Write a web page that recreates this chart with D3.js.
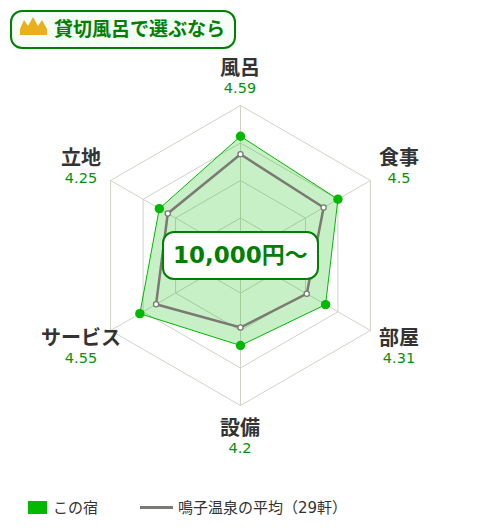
<!DOCTYPE html>
<html><head><meta charset="utf-8">
<script src="https://cdn.jsdelivr.net/npm/d3@7"></script>
<style>html,body{margin:0;padding:0;background:#fff}svg{display:block}text{font-family:"DejaVu Sans","Noto Sans CJK JP",sans-serif}</style>
</head><body><svg width="480" height="530"></svg>
<script>
const categories=["風呂","食事","部屋","設備","サービス","立地"];
const hotelValues=[4.59,4.5,4.31,4.2,4.55,4.25];
const averageValues=[4.35,4.28,4.02,3.96,4.30,4.12];
const ringValues=[3.5,4,4.5,5];
const title="貸切風呂で選ぶなら";
const priceLabel="10,000円～";
const legendHotel="この宿";
const legendAverage="鳴子温泉の平均（29軒）";
const cx=240.5,cy=255.5;
const svg=d3.select("svg");
const r=d3.scaleLinear().domain([3,5]).range([0,150]);
const ang=d3.scalePoint().domain(categories).range([0,300]);
const pt=(c,v)=>{const a=ang(c)*Math.PI/180;return [cx+r(v)*Math.sin(a),cy-r(v)*Math.cos(a)];};
const line=d3.line();
const ring=vals=>line(categories.map((c,i)=>pt(c,vals[i])))+"Z";
const gridColor="#d2d2c8";
ringValues.forEach(v=>svg.append("path").attr("d",ring(categories.map(()=>v))).attr("fill","none").attr("stroke",gridColor).attr("stroke-width",1));
categories.forEach(c=>{const [x,y]=pt(c,5);svg.append("line").attr("x1",cx).attr("y1",cy).attr("x2",x).attr("y2",y).attr("stroke",gridColor);});
svg.append("path").attr("d",ring(hotelValues)).attr("fill","#00b900").attr("fill-opacity",.22).attr("stroke","#00b900").attr("stroke-width",1);
svg.append("path").attr("d",ring(averageValues)).attr("fill","none").attr("stroke","#7a7a72").attr("stroke-width",2.5);
categories.forEach((c,i)=>{const [x,y]=pt(c,hotelValues[i]);svg.append("circle").attr("cx",x).attr("cy",y).attr("r",4.7).attr("fill","#00b900");});
categories.forEach((c,i)=>{const [x,y]=pt(c,averageValues[i]);svg.append("circle").attr("cx",x).attr("cy",y).attr("r",2.6).attr("fill","#fff").attr("stroke","#7a7a72").attr("stroke-width",1.3);});
const labelPos=[[240,75],[399,165],[399,345],[240,435],[81,345],[81,165]];
categories.forEach((c,i)=>{
 svg.append("text").attr("x",labelPos[i][0]).attr("y",labelPos[i][1]).attr("text-anchor","middle").attr("font-size",20).attr("font-weight",700).attr("fill","#333").text(c);
 svg.append("text").attr("x",labelPos[i][0]).attr("y",labelPos[i][1]+18).attr("text-anchor","middle").attr("font-size",14.5).attr("fill","#0a8f0a").text(hotelValues[i]);
});
svg.append("rect").attr("x",163).attr("y",232).attr("width",155).attr("height",47).attr("rx",11).attr("fill","#fff").attr("stroke","#008000").attr("stroke-width",2);
svg.append("text").attr("x",240.5).attr("y",263).attr("text-anchor","middle").attr("font-size",23).attr("font-weight",700).attr("fill","#008000").text(priceLabel);
svg.append("rect").attr("x",11).attr("y",11).attr("width",224).attr("height",37).attr("rx",11).attr("fill","#f6fcf6").attr("stroke","#008000").attr("stroke-width",2);
svg.append("path").attr("d","M20 35 L20 29 L24 20 L28 26 L33 17 L38 26 L42 20 L47 29 L47 35 Z").attr("fill","#e8b01e");
svg.append("text").attr("x",54).attr("y",36).attr("font-size",19).attr("font-weight",700).attr("fill","#008000").text(title);
svg.append("rect").attr("x",28).attr("y",501).attr("width",19).attr("height",13).attr("fill","#00b900");
svg.append("text").attr("x",53).attr("y",513).attr("font-size",15).attr("fill","#333").text(legendHotel);
svg.append("line").attr("x1",140).attr("x2",173).attr("y1",507.5).attr("y2",507.5).attr("stroke","#7a7a72").attr("stroke-width",3);
svg.append("text").attr("x",178).attr("y",513).attr("font-size",15).attr("fill","#333").text(legendAverage);
</script></body></html>
